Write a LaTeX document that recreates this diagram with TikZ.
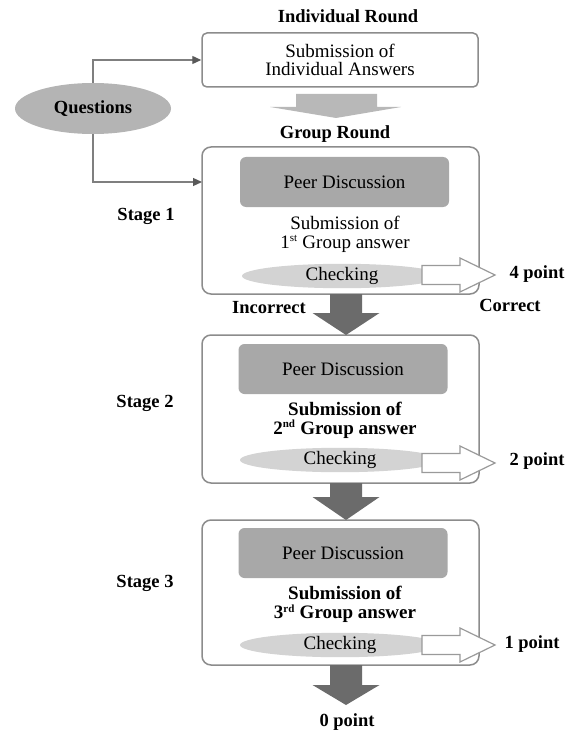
\documentclass[tikz,border=0pt]{standalone}
\usepackage{fontspec}
\setmainfont{Liberation Serif}
\usetikzlibrary{arrows.meta,shapes.geometric,calc}
\definecolor{boxline}{HTML}{8C8C8C}
\definecolor{conline}{HTML}{7F7F7F}
\definecolor{tipgray}{HTML}{595959}
\definecolor{qgray}{HTML}{B4B4B4}
\definecolor{peergray}{HTML}{A8A8A8}
\definecolor{checkgray}{HTML}{D3D3D3}
\definecolor{darkarrow}{HTML}{6B6B6B}
\definecolor{lightarrow}{HTML}{B8B8B8}
\definecolor{warrowline}{HTML}{9A9A9A}
\newcommand\WArrow[1]{%
  \draw[warrow] (422,{#1-9.5}) -- (460,{#1-9.5}) -- (460,{#1-17}) -- (495,#1)
    -- (460,{#1+17}) -- (460,{#1+9.5}) -- (422,{#1+9.5}) -- cycle;}
\newcommand\DArrow[3]{%
  \fill[darkarrow] (330,#1) -- (362,#1) -- (362,#2) -- (379.5,#2) -- (346,#3)
    -- (312.5,#2) -- (330,#2) -- cycle;}
\newcommand\supr[1]{\textsuperscript{\fontsize{11}{11}\selectfont #1}}
\begin{document}
\begin{tikzpicture}[x=1pt,y=-1pt,
  boldtxt/.style={font=\fontsize{18.5}{18}\selectfont\bfseries, inner sep=0pt},
  regtxt/.style={font=\fontsize{19}{19}\selectfont, align=center, inner sep=0pt},
  stagebox/.style={draw=boxline, line width=1.5pt, rounded corners=9pt, fill=white,
    minimum width=277pt, inner sep=0pt},
  indbox/.style={draw=boxline, line width=1.5pt, rounded corners=5pt, fill=white,
    minimum width=276pt, minimum height=54pt, inner sep=0pt,
    font=\fontsize{19}{18}\selectfont, align=center},
  peerbox/.style={fill=peergray, rounded corners=6pt, minimum width=209pt,
    minimum height=50pt, inner sep=0pt, font=\fontsize{19}{19}\selectfont},
  checkell/.style={ellipse, fill=checkgray, minimum width=200pt, minimum height=24pt,
    inner sep=0pt, font=\fontsize{19}{19}\selectfont},
  qell/.style={ellipse, fill=qgray, minimum width=156pt, minimum height=51pt,
    inner sep=0pt, font=\fontsize{18.5}{18}\selectfont\bfseries},
  conn/.style={draw=conline, line width=1.3pt,
    -{Triangle[length=9pt,width=8pt,color=tipgray]}},
  warrow/.style={draw=warrowline, line width=1.2pt, fill=white}]
\useasboundingbox (0,0) rectangle (574,730);

% titles
\node[boldtxt] (ir) at (348,16) {Individual Round};
\node[boldtxt] (gr) at (335,134) {Group Round};

% individual box
\node[indbox] (ind) at (340,60) {Submission of\\Individual Answers};

% questions
\node[qell] (q) at (93,108.5) {Questions};

% light arrow between rounds
\fill[lightarrow] (296,94) -- (377,94) -- (377,107) -- (401,107) -- (336,118)
  -- (270,107) -- (296,107) -- cycle;

% stage boxes
\node[stagebox, minimum height=147pt] (s1) at (340.5,220.5) {};
\node[stagebox, minimum height=148pt] (s2) at (340.5,409) {};
\node[stagebox, minimum height=145pt] (s3) at (340.5,592.5) {};

% connectors from questions
\coordinate (g1) at (202,182);
\draw[conn] (q.north) |- (ind.west);
\draw[conn] (q.south) |- (g1);

% peer discussion
\node[peerbox] (p1) at (344.5,182) {Peer Discussion};
\node[peerbox] (p2) at (343,369) {Peer Discussion};
\node[peerbox] (p3) at (343,553) {Peer Discussion};

% submissions
\node[regtxt] (sub1) at (345,234) {Submission of\\1\supr{st} Group answer};
\node[regtxt, font=\fontsize{19}{19}\selectfont\bfseries] (sub2) at (345,420) {Submission of\\2\supr{nd} Group answer};
\node[regtxt, font=\fontsize{19}{19}\selectfont\bfseries] (sub3) at (345,604.5) {Submission of\\3\supr{rd} Group answer};

% checking
\node[checkell] (c1) at (342,276) {Checking};
\node[checkell] (c2) at (340,460) {Checking};
\node[checkell] (c3) at (340,645) {Checking};

% white arrows
\WArrow{275}
\WArrow{463}
\WArrow{645}

% dark arrows
\DArrow{294}{313}{335}
\DArrow{483}{497}{520}
\DArrow{665}{685}{705}

% stage labels
\node[boldtxt] (st1) at (146,216) {Stage 1};
\node[boldtxt] (st2) at (145,403) {Stage 2};
\node[boldtxt] (st3) at (145,583) {Stage 3};

% outcomes
\node[boldtxt] (pt4) at (537,274) {4 point};
\node[boldtxt] (pt2) at (537,461) {2 point};
\node[boldtxt] (pt1) at (532,644) {1 point};
\node[boldtxt] (pt0) at (347,722) {0 point};
\node[boldtxt] (inc) at (269,308) {Incorrect};
\node[boldtxt] (cor) at (510,305) {Correct};
\end{tikzpicture}
\end{document}
